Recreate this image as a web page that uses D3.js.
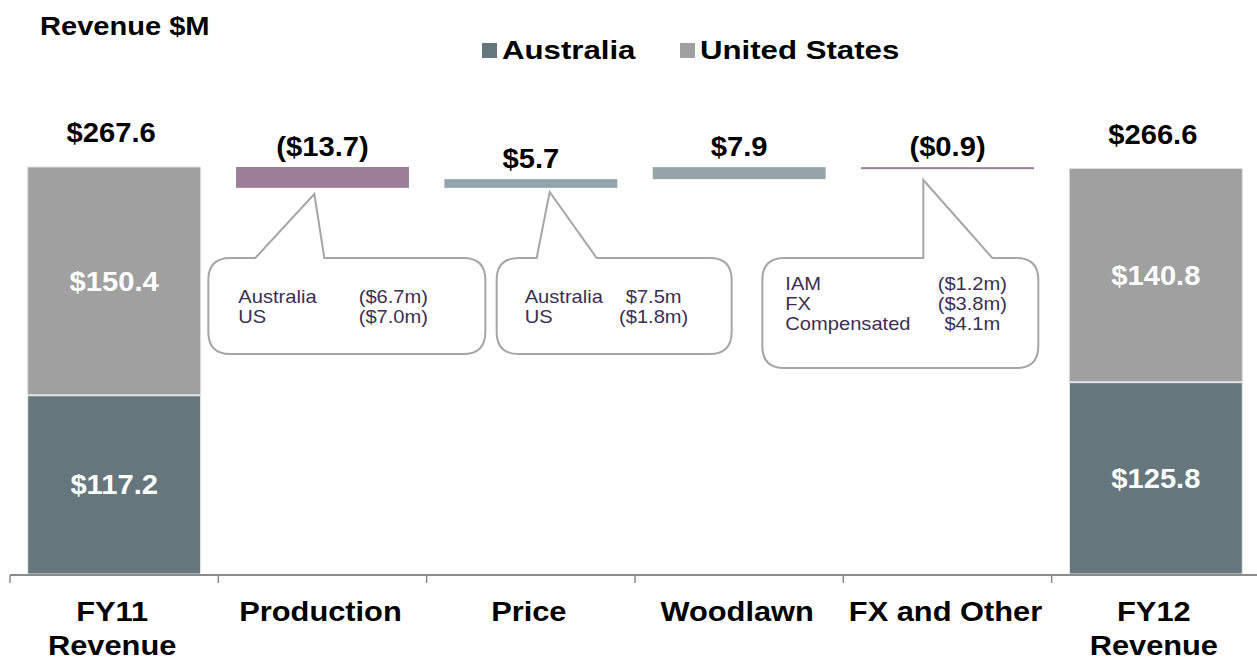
<!DOCTYPE html>
<html lang="en">
<head>
    <meta charset="UTF-8">
    <title>Revenue Waterfall</title>
    <script src="https://cdn.jsdelivr.net/npm/d3@7"></script>
    <style>
        body { margin: 0; background: #fff; }
        text { font-family: "Liberation Sans", Arial, sans-serif; }
    </style>
</head>
<body>
    <svg id="chart" width="1257" height="663"></svg>
    <script>
        // chart values
        const categories = ["FY11 Revenue", "Production", "Price", "Woodlawn", "FX and Other", "FY12 Revenue"];
        const axisLines = [["FY11", "Revenue"], ["Production"], ["Price"], ["Woodlawn"], ["FX and Other"], ["FY12", "Revenue"]];
        const australia = [117.2, null, null, null, null, 125.8];
        const unitedStates = [150.4, null, null, null, null, 140.8];
        const changes = [null, -13.7, 5.7, 7.9, -0.9, null];
        const valueLabels = ["$267.6", "($13.7)", "$5.7", "$7.9", "($0.9)", "$266.6"];

        const callouts = [
            { cat: "Production", rows: [["Australia", "($6.7m)"], ["US", "($7.0m)"]] },
            { cat: "Price", rows: [["Australia", "$7.5m"], ["US", "($1.8m)"]] },
            { cat: "FX and Other", rows: [["IAM", "($1.2m)"], ["FX", "($3.8m)"], ["Compensated", "$4.1m"]] }
        ];

        // callout box layout, x relative to the start of the category band
        const calloutLayout = [
            { x0: -10, w: 277, y0: 258, y1: 354, tip: [96, 194], base: [37, 106], textX: 30, valX: 185, rowY: 303 },
            { x0: 70, w: 235, y0: 258, y1: 354, tip: [123, 192], base: [110, 170], textX: 28, valX: 157, rowY: 303 },
            { x0: -81, w: 276, y0: 258, y1: 368, tip: [80, 180], base: [80, 149], textX: 23, valX: 210, rowY: 290 }
        ];

        const colAus = "#65777d", colUS = "#a0a0a0", colDown = "#9b7f99", colUp = "#94a4aa";

        const svg = d3.select("#chart");

        const x = d3.scaleBand()
            .domain(categories)
            .range([10, 1260])
            .paddingInner(0.17)
            .paddingOuter(0.085);

        const totals = australia.map((a, i) => a == null ? null : a + unitedStates[i]);
        const y = d3.scaleLinear()
            .domain([0, d3.max(totals)])
            .range([574, 167]);

        // the source picture is a little wider than tall, so text gets a horizontal stretch
        function stext(g, tx, ty, str, size, weight, fill, anchor, sx) {
            return g.append("text")
                .attr("transform", `translate(${tx},${ty}) scale(${sx},1)`)
                .attr("text-anchor", anchor || "middle")
                .style("font-size", size + "px")
                .style("font-weight", weight)
                .attr("fill", fill)
                .text(str);
        }

        // title
        stext(svg, 40, 35, "Revenue $M", 25.5, "bold", "#000", "start", 1.14);

        // legend
        const legend = [["Australia", colAus, 482], ["United States", colUS, 680]];
        legend.forEach(([name, c, lx]) => {
            svg.append("rect").attr("x", lx).attr("y", 43).attr("width", 15).attr("height", 15).attr("fill", c);
            stext(svg, lx + 20, 59, name, 26, "bold", "#000", "start", 1.2);
        });

        // waterfall bars
        let running = 0;
        const bars = svg.append("g");
        categories.forEach((cat, i) => {
            const bx = x(cat), bw = x.bandwidth();
            const cx = bx + bw / 2;
            if (totals[i] != null) {
                running = totals[i];
                const top = y(totals[i]);
                bars.append("rect")
                    .attr("x", bx).attr("width", bw)
                    .attr("y", y(australia[i])).attr("height", y(0) - y(australia[i]))
                    .attr("fill", colAus).attr("stroke", "#e8ecec").attr("stroke-width", 1);
                bars.append("rect")
                    .attr("x", bx).attr("width", bw)
                    .attr("y", top).attr("height", y(australia[i]) - top - 1)
                    .attr("fill", colUS).attr("stroke", "#dedede").attr("stroke-width", 1);
                stext(bars, cx, (y(australia[i]) + top) / 2 + 9.5, "$" + unitedStates[i].toFixed(1), 27, "bold", "#fff", "middle", 1.08);
                stext(bars, cx, (y(0) + y(australia[i])) / 2 + 9.5, "$" + australia[i].toFixed(1), 27, "bold", "#fff", "middle", 1.08);
                stext(bars, cx - 3, top - 25, valueLabels[i], 27, "bold", "#000", "middle", 1.08);
            } else {
                const start = running, end = running + changes[i];
                running = end;
                const top = y(Math.max(start, end));
                const h = Math.abs(y(start) - y(end));
                bars.append("rect")
                    .attr("x", bx).attr("width", bw)
                    .attr("y", top).attr("height", Math.max(h, 2))
                    .attr("fill", changes[i] < 0 ? colDown : colUp);
                stext(bars, cx, top - 11, valueLabels[i], 27, "bold", "#000", "middle", 1.08);
            }
        });

        // category axis
        const axis = svg.append("g");
        const step = x.step();
        const first = x(categories[0]) - x.paddingOuter() * step;
        axis.append("line")
            .attr("x1", first).attr("x2", 1257)
            .attr("y1", 575).attr("y2", 575)
            .attr("stroke", "#8a8a8a").attr("stroke-width", 2);
        d3.range(categories.length + 1).forEach(k => {
            axis.append("line")
                .attr("x1", first + k * step).attr("x2", first + k * step)
                .attr("y1", 575).attr("y2", 583)
                .attr("stroke", "#8a8a8a").attr("stroke-width", 1.5);
        });
        categories.forEach((cat, i) => {
            const cx = x(cat) + x.bandwidth() / 2;
            axisLines[i].forEach((ln, j) => {
                stext(axis, cx - 2, 621 + j * 34, ln, 28, "bold", "#000", "middle", 1.1);
            });
        });

        // callouts
        const cg = svg.append("g");
        callouts.forEach((c, k) => {
            const L = calloutLayout[k];
            const bs = x(c.cat) - x.paddingInner() * step / 2;
            const x0 = bs + L.x0, x1 = x0 + L.w, y0 = L.y0, y1 = L.y1, r = 22;
            const p = d3.path();
            p.moveTo(x0 + r, y0);
            p.lineTo(bs + L.base[0], y0);
            p.lineTo(bs + L.tip[0], L.tip[1]);
            p.lineTo(bs + L.base[1], y0);
            p.lineTo(x1 - r, y0);
            p.quadraticCurveTo(x1, y0, x1, y0 + r);
            p.lineTo(x1, y1 - r);
            p.quadraticCurveTo(x1, y1, x1 - r, y1);
            p.lineTo(x0 + r, y1);
            p.quadraticCurveTo(x0, y1, x0, y1 - r);
            p.lineTo(x0, y0 + r);
            p.quadraticCurveTo(x0, y0, x0 + r, y0);
            p.closePath();
            cg.append("path").attr("d", p.toString())
                .attr("fill", "#fff").attr("stroke", "#a6a6a6").attr("stroke-width", 2);
            c.rows.forEach((row, j) => {
                stext(cg, x0 + L.textX, L.rowY + j * 20, row[0], 17.5, "normal", "#3c2f52", "start", 1.15);
                stext(cg, x0 + L.valX, L.rowY + j * 20, row[1], 17.5, "normal", "#3c2f52", "middle", 1.15);
            });
        });
    </script>
</body>
</html>
